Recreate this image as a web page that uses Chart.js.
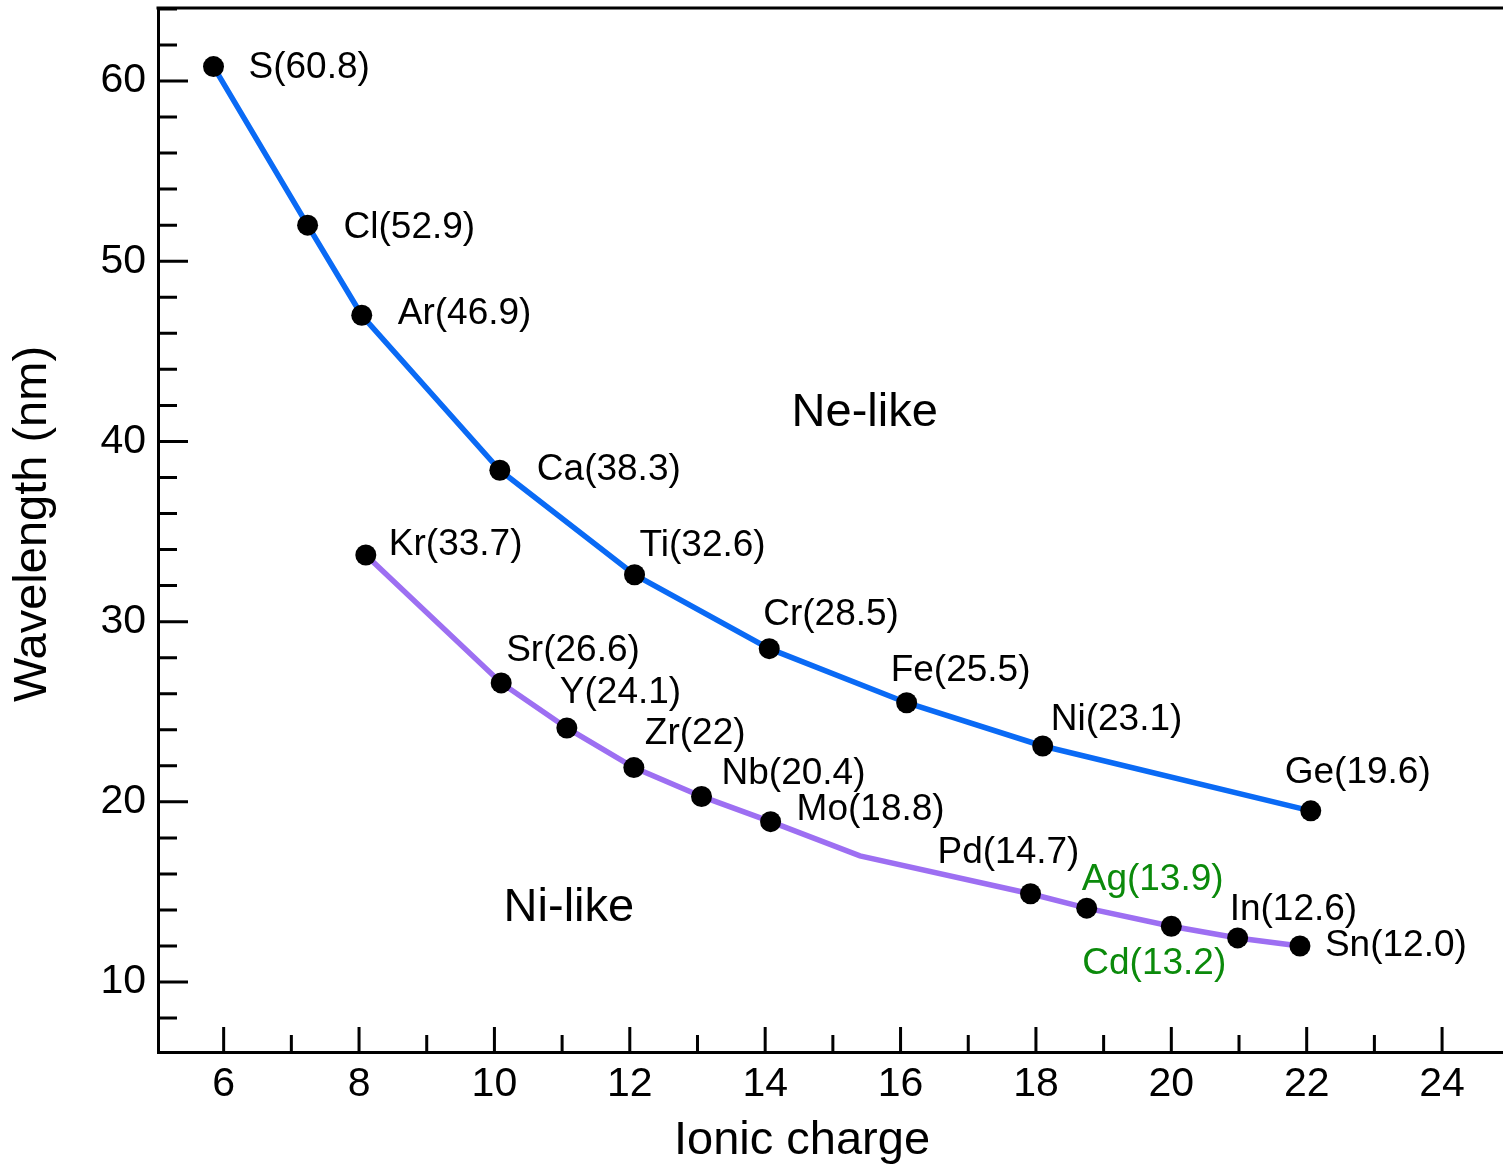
<!DOCTYPE html>
<html>
<head>
<meta charset="utf-8">
<script src="https://cdn.jsdelivr.net/npm/chart.js@4.4.0/dist/chart.umd.min.js"></script>
<style>
  html, body { margin: 0; padding: 0; background: #fff; }
  #wrap { width: 1503px; height: 1165px; }
</style>
</head>
<body>
<div id="wrap"><canvas id="chart" width="1503" height="1165"></canvas></div>
<script>
// Ne-like lasers
const neCharge = [5.85, 7.24, 8.04, 10.08, 12.07, 14.06, 16.09, 18.1, 22.06];
const neWave = [60.8, 52.0, 47.0, 38.4, 32.6, 28.5, 25.5, 23.1, 19.5];
const neLabels = ['S(60.8)', 'Cl(52.9)', 'Ar(46.9)', 'Ca(38.3)', 'Ti(32.6)', 'Cr(28.5)', 'Fe(25.5)', 'Ni(23.1)', 'Ge(19.6)'];

// Ni-like lasers (the 15.4 entry is a bend of the line, no marker)
const niCharge = [8.1, 10.1, 11.07, 12.06, 13.06, 14.08, 15.4, 17.92, 18.75, 20.0, 20.98, 21.9];
const niWave = [33.7, 26.6, 24.1, 21.9, 20.3, 18.9, 17.0, 14.9, 14.1, 13.1, 12.45, 12.0];
const niLabels = ['Kr(33.7)', 'Sr(26.6)', 'Y(24.1)', 'Zr(22)', 'Nb(20.4)', 'Mo(18.8)', '', 'Pd(14.7)', 'Ag(13.9)', 'Cd(13.2)', 'In(12.6)', 'Sn(12.0)'];

// axis ticks
const xTickValues = [6, 7, 8, 9, 10, 11, 12, 13, 14, 15, 16, 17, 18, 19, 20, 21, 22, 23, 24];
const yTickValues = [8, 10, 12, 14, 16, 18, 20, 22, 24, 26, 28, 30, 32, 34, 36, 38, 40, 42, 44, 46, 48, 50, 52, 54, 56, 58, 60, 62, 64];

// group names
const groupNames = ['Ne-like', 'Ni-like'];
const groupCharge = [15.47, 11.1];
const groupWave = [41.55, 14.1];

const FONT = '"Liberation Sans", Arial, sans-serif';
Chart.defaults.font.family = FONT;
Chart.defaults.color = '#000';

const toXY = (xs, ys) => xs.map((x, i) => ({ x: x, y: ys[i] }));

const pointLabelPlugin = {
  id: 'pointLabels',
  afterDatasetsDraw(chart) {
    const ctx = chart.ctx;
    ctx.save();
    ctx.font = '37px ' + FONT;
    ctx.textAlign = 'left';
    ctx.textBaseline = 'middle';
    chart.data.datasets.forEach((ds, i) => {
      if (!ds.pointLabels) return;
      const meta = chart.getDatasetMeta(i);
      meta.data.forEach((pt, j) => {
        const text = ds.pointLabels[j];
        if (!text) return;
        const off = ds.labelOffsets[j];
        ctx.fillStyle = (ds.labelColors && ds.labelColors[j]) || '#000';
        ctx.fillText(text, pt.x + off[0], pt.y + off[1]);
      });
    });

    // Ne-like / Ni-like
    ctx.font = '47px ' + FONT;
    ctx.textAlign = 'center';
    ctx.fillStyle = '#000';
    const xs = chart.scales.x, ys = chart.scales.y;
    groupNames.forEach((name, i) => {
      ctx.fillText(name, xs.getPixelForValue(groupCharge[i]), ys.getPixelForValue(groupWave[i]));
    });

    // axis titles, placed like the source (not exactly centred)
    const area = chart.chartArea;
    ctx.fillText('Ionic charge', area.left + 644, 1141);
    ctx.translate(33, 524);
    ctx.rotate(-Math.PI / 2);
    ctx.fillText('Wavelength (nm)', 0, 0);
    ctx.restore();
  }
};

// inward ticks and top frame line
const framePlugin = {
  id: 'frame',
  afterDraw(chart) {
    const ctx = chart.ctx;
    const area = chart.chartArea;
    const xs = chart.scales.x, ys = chart.scales.y;
    ctx.save();
    ctx.strokeStyle = '#000';
    ctx.lineWidth = 3;
    ctx.beginPath();
    ctx.moveTo(area.left - 1.5, area.top);
    ctx.lineTo(area.right, area.top);
    xTickValues.forEach(v => {
      const px = xs.getPixelForValue(v);
      const len = v % 2 === 0 ? 25 : 17;
      ctx.moveTo(px, area.bottom);
      ctx.lineTo(px, area.bottom - len);
    });
    yTickValues.forEach(v => {
      const py = ys.getPixelForValue(v);
      const len = v % 10 === 0 ? 30 : 19;
      ctx.moveTo(area.left, py);
      ctx.lineTo(area.left + len, py);
    });
    ctx.stroke();
    ctx.restore();
  }
};

new Chart(document.getElementById('chart'), {
  type: 'line',
  data: {
    datasets: [
      {
        label: 'Ne-like',
        data: toXY(neCharge, neWave),
        borderColor: '#0a6af5',
        borderWidth: 5.5,
        tension: 0,
        pointRadius: 10.5,
        pointHoverRadius: 10.5,
        pointBackgroundColor: '#000',
        pointBorderWidth: 0,
        pointLabels: neLabels,
        labelOffsets: [[35, 1], [36, 3], [36, -1], [37, 0], [5, -29], [-6, -34], [-16, -32], [8, -26], [-26, -38]]
      },
      {
        label: 'Ni-like',
        data: toXY(niCharge, niWave),
        borderColor: '#9d6ff2',
        borderWidth: 5.5,
        tension: 0,
        pointRadius: niLabels.map(t => t ? 10.5 : 0),
        pointHoverRadius: niLabels.map(t => t ? 10.5 : 0),
        pointBackgroundColor: '#000',
        pointBorderWidth: 0,
        pointLabels: niLabels,
        labelColors: niLabels.map(t => (t.startsWith('Ag') || t.startsWith('Cd')) ? '#0b8a0b' : '#000'),
        labelOffsets: [[23, -10], [5, -32], [-7, -35], [11, -34], [20, -23], [26, -12], [0, 0], [-93, -41], [-5, -28], [-89, 38], [-8, -28], [25, 0]]
      }
    ]
  },
  options: {
    responsive: false,
    animation: false,
    events: [],
    layout: { autoPadding: false, padding: { top: 8, right: 0, left: 0, bottom: 0 } },
    plugins: {
      legend: { display: false },
      tooltip: { enabled: false }
    },
    scales: {
      x: {
        type: 'linear',
        position: 'bottom',
        min: 5.03,
        max: 24.9,
        grid: { display: false, drawTicks: false },
        border: { display: true, color: '#000', width: 3 },
        afterBuildTicks: scale => { scale.ticks = xTickValues.map(v => ({ value: v })); },
        afterFit: scale => {
          scale.height = 113;
          scale.paddingLeft = 0;
          scale.paddingRight = 0;
        },
        ticks: {
          autoSkip: false,
          maxRotation: 0,
          padding: 8,
          color: '#000',
          font: { size: 41 },
          callback: v => (v % 2 === 0 ? String(v) : '')
        }
      },
      y: {
        type: 'linear',
        position: 'left',
        min: 6.12,
        max: 64.05,
        grid: { display: false, drawTicks: false },
        border: { display: true, color: '#000', width: 3 },
        afterBuildTicks: scale => { scale.ticks = yTickValues.map(v => ({ value: v })); },
        afterFit: scale => {
          scale.width = 158;
          scale.paddingTop = 0;
          scale.paddingBottom = 0;
        },
        ticks: {
          autoSkip: false,
          padding: 12,
          color: '#000',
          font: { size: 41 },
          callback: v => (v % 10 === 0 ? String(v) : '')
        }
      }
    }
  },
  plugins: [pointLabelPlugin, framePlugin]
});
</script>
</body>
</html>
